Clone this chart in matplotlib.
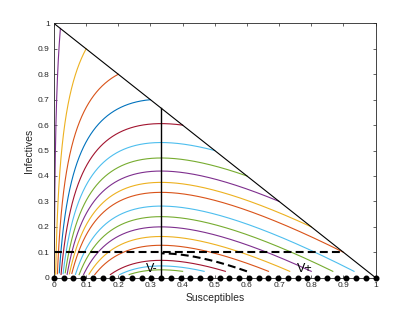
import matplotlib
matplotlib.use("Agg")
import matplotlib.pyplot as plt
import numpy as np

R0 = 3.0

# starting points (S0, I0) of the orbits, top-left to bottom
start_S = [0.02, 0.1, 0.2, 0.3, 0.4, 0.5, 0.6, 0.7, 0.8, 0.9, 0.99,
           0.933, 0.867, 0.8, 0.733, 0.667, 0.533, 0.467, 0.4]
start_I = [0.98, 0.9, 0.8, 0.7, 0.6, 0.5, 0.4, 0.3, 0.2, 0.1, 0.01,
           0.025, 0.025, 0.025, 0.025, 0.025, 0.025, 0.025, 0.025]
curve_colors = ['#7E2F8E', '#EDB120', '#D95319', '#0072BD', '#A2142F', '#4DBEEE',
                '#77AC30', '#7E2F8E', '#EDB120', '#D95319', '#0072BD',
                '#4DBEEE', '#77AC30', '#7E2F8E', '#EDB120', '#D95319',
                '#A2142F', '#4DBEEE', '#77AC30']

# dashed orbit between the threshold and its start
dash_S0, dash_I0, dash_Send = 0.6, 0.025, 1 / 3
hline_I = 0.1
hline_S = [0, 0.9]
I_cut = 0.012

eq_S = np.linspace(0, 1, 34)

ticks = [0, 0.1, 0.2, 0.3, 0.4, 0.5, 0.6, 0.7, 0.8, 0.9, 1]
tick_labels = ['0', '0.1', '0.2', '0.3', '0.4', '0.5', '0.6', '0.7', '0.8', '0.9', '1']


def orbit(S0, I0, S_end=1e-4):
    S = np.linspace(S0, S_end, 600)
    I = S0 + I0 - S + np.log(S / S0) / R0
    keep = np.cumprod(I >= I_cut).astype(bool)
    return S[keep], I[keep]


plt.rcParams['font.family'] = ['Liberation Sans', 'DejaVu Sans']
fig = plt.figure(figsize=(4.15, 3.12), dpi=100)
ax = fig.add_axes([0.13, 0.11, 0.775, 0.815])

for s0, i0, c in zip(start_S, start_I, curve_colors):
    S, I = orbit(s0, i0)
    ax.plot(S, I, color=c, lw=0.8)

S, I = orbit(dash_S0, dash_I0, dash_Send)
ax.plot(S, I, 'k', lw=1.5, dashes=(3.8, 2))
ax.plot(hline_S, [hline_I, hline_I], 'k', lw=1.5, dashes=(3.8, 2))

ax.plot([0, 1], [1, 0], 'k', lw=0.8)
ax.plot([1 / R0, 1 / R0], [0, 1 - 1 / R0], 'k', lw=1.0)

ax.plot(eq_S, np.zeros_like(eq_S), 'o', color='k', ms=3.3, clip_on=False, zorder=5)

ax.text(0.285, 0.024, 'V-', fontsize=9)
ax.text(0.755, 0.022, 'V+', fontsize=9)

ax.set_xlim(0, 1)
ax.set_ylim(0, 1)
ax.set_xticks(ticks)
ax.set_xticklabels(tick_labels)
ax.set_yticks(ticks)
ax.set_yticklabels(tick_labels)
ax.tick_params(direction='in', length=2.5, width=0.5, labelsize=6,
               top=True, right=True, colors='#262626', pad=3)
for sp in ax.spines.values():
    sp.set_color('#262626')
    sp.set_linewidth(0.6)

ax.set_xlabel('Susceptibles', fontsize=7.5, color='#262626', labelpad=3)
ax.set_ylabel('Infectives', fontsize=7.5, color='#262626', labelpad=3)

fig.savefig('out.png', dpi=100)
